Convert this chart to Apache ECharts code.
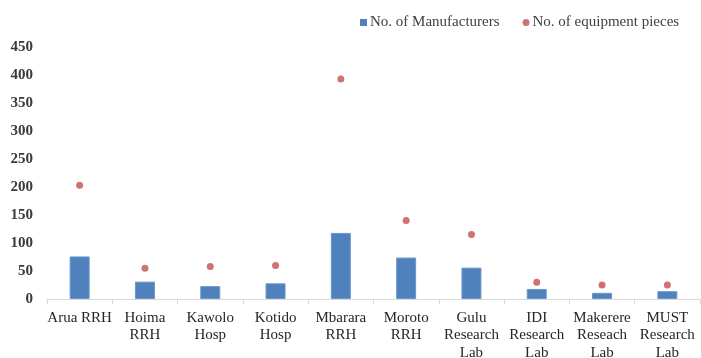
<!DOCTYPE html>
<html>
<head>
<meta charset="utf-8">
<script src="https://cdn.jsdelivr.net/npm/echarts@6/dist/echarts.min.js"></script>
<style>
	html, body { margin: 0; padding: 0; background: #fff; }
	#main { width: 701px; height: 358px; }
</style>
</head>
<body>
<div id="main"></div>
<script>
const sites = ['Arua RRH', 'Hoima\nRRH', 'Kawolo\nHosp', 'Kotido\nHosp', 'Mbarara\nRRH', 'Moroto\nRRH', 'Gulu\nResearch\nLab', 'IDI\nResearch\nLab', 'Makerere\nReseach\nLab', 'MUST\nResearch\nLab'];
const manufacturers = [76, 31, 23, 28, 118, 74, 56, 18, 11, 14];
const equipmentPieces = [203, 55, 58, 60, 393, 140, 115, 30, 25, 25];
const yTicks = [0, 450, 50];

const font = '"Liberation Serif", "DejaVu Serif", serif';

// chart --->
const myChart = echarts.init(document.getElementById('main'), null, { renderer: 'canvas' });

const option = {
	animation: false,
	color: ['#4f81bd', '#c0504d'],
	legend: {
		top: 10,
		left: 355,
		itemGap: 23,
		itemWidth: 7,
		itemHeight: 7,
		itemStyle: { borderWidth: 0 },
		textStyle: { fontFamily: font, fontSize: 15, color: '#404040', padding: [0, 0, 0, -2] },
		data: [
			{ name: 'No. of Manufacturers', icon: 'rect' },
			{ name: 'No. of equipment pieces', icon: 'circle' }
		]
	},
	grid: {
		left: 47,
		right: 1,
		top: 47,
		bottom: 59,
		containLabel: false,
		outerBoundsMode: 'none'
	},
	xAxis: {
		type: 'category',
		data: sites,
		axisLine: { lineStyle: { color: '#d9d9d9', width: 1 } },
		axisTick: { show: true, length: 5, lineStyle: { color: '#d9d9d9' } },
		axisLabel: {
			interval: 0,
			margin: 10,
			fontFamily: font,
			fontSize: 15,
			lineHeight: 17.5,
			color: '#262626'
		}
	},
	yAxis: {
		type: 'value',
		min: yTicks[0],
		max: yTicks[1],
		interval: yTicks[2],
		axisLine: { show: false },
		axisTick: { show: false },
		splitLine: { show: false },
		axisLabel: {
			margin: 14,
			fontFamily: font,
			fontSize: 15,
			fontWeight: 'bold',
			color: '#3a3a3a'
		}
	},
	series: [
		{
			name: 'No. of Manufacturers',
			type: 'bar',
			data: manufacturers,
			barWidth: 20,
			itemStyle: { color: '#4f81bd', borderColor: '#6b97cc', borderWidth: 1 }
		},
		{
			name: 'No. of equipment pieces',
			type: 'scatter',
			data: equipmentPieces,
			symbol: 'circle',
			symbolSize: 7,
			itemStyle: { color: '#c0504d' }
		}
	]
};

myChart.setOption(option);
// <--- chart
</script>
</body>
</html>
